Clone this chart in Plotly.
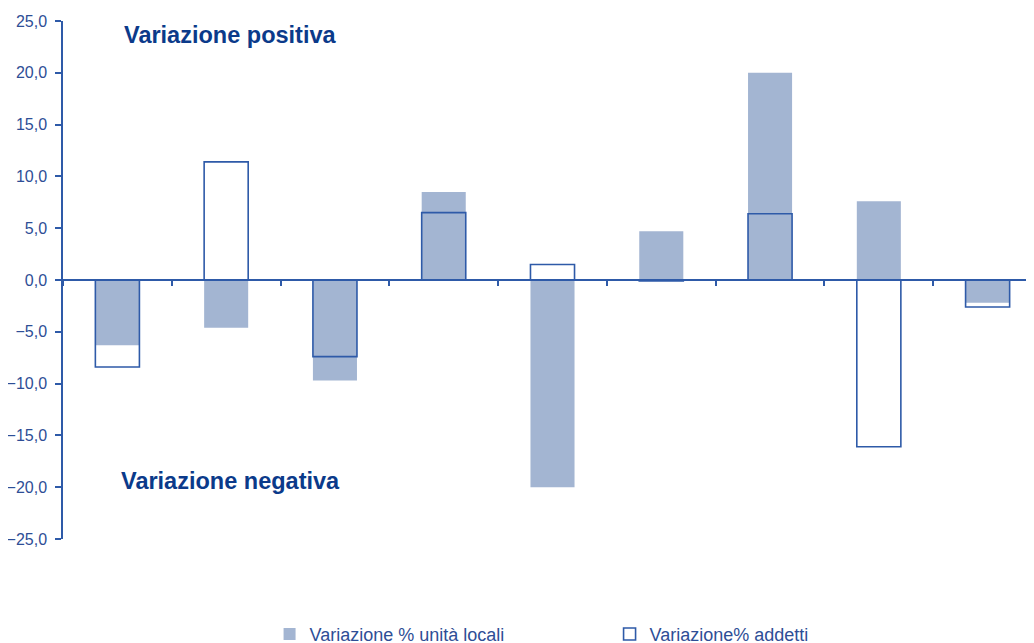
import plotly.graph_objects as go

categories = ["A", "B", "C", "D", "E", "F", "G", "H", "I"]
unita_locali = [-6.3, -4.6, -9.7, 8.5, -20.0, 4.7, 20.0, 7.6, -2.2]
addetti = [-8.4, 11.4, -7.4, 6.5, 1.5, -0.1, 6.4, -16.1, -2.6]
y_ticks = [-25, -20, -15, -10, -5, 0, 5, 10, 15, 20, 25]

FILL = "#A3B5D2"
LINE = "#2E5AA8"
TEXT = "#2E4E96"
TITLE = "#0B3A8A"

fig = go.Figure()
fig.add_trace(go.Bar(
    x=categories, y=unita_locali, name="Variazione % unità locali",
    marker=dict(color=FILL, line=dict(width=0)), width=0.405,
))
fig.add_trace(go.Bar(
    x=categories, y=addetti, name="Variazione% addetti",
    marker=dict(color="rgba(255,255,255,0)", line=dict(color=LINE, width=1.6)), width=0.405,
))

fig.update_layout(
    width=1034, height=643,
    margin=dict(l=55, r=0, t=13, b=112, autoexpand=False),
    paper_bgcolor="white", plot_bgcolor="white",
    barmode="overlay",
    separators=",.",
    font=dict(family="Liberation Sans, Arial, sans-serif", color=TEXT),
    xaxis=dict(
        type="category", anchor="free", position=0.5, automargin=False,
        showline=True, linecolor=LINE, linewidth=1.5,
        ticks="outside", tickson="boundaries", ticklen=5, tickcolor=LINE, tickwidth=1.5,
        showticklabels=False, showgrid=False, zeroline=False,
    ),
    yaxis=dict(
        range=[-25, 25], tickvals=y_ticks, tickformat=".1f", automargin=False,
        showline=True, linecolor=LINE, linewidth=1.5,
        ticks="outside", ticklen=6, tickcolor=LINE, tickwidth=1.5,
        ticklabelstandoff=5,
        tickfont=dict(size=16, color=TEXT),
        showgrid=False, zeroline=False,
    ),
    legend=dict(
        orientation="h", x=0.211, xanchor="left", y=-0.184, yanchor="middle",
        entrywidth=295, entrywidthmode="pixels",
        font=dict(size=18, color=TEXT), traceorder="normal",
    ),
    annotations=[
        dict(text="<b>Variazione positiva</b>", xref="paper", yref="paper",
             x=(122 - 63) / 979, y=(539 - 35) / 518, xanchor="left", yanchor="middle",
             showarrow=False, font=dict(size=23.5, color=TITLE)),
        dict(text="<b>Variazione negativa</b>", xref="paper", yref="paper",
             x=(119 - 63) / 979, y=(539 - 481) / 518, xanchor="left", yanchor="middle",
             showarrow=False, font=dict(size=23.5, color=TITLE)),
    ],
)

fig.write_html("out.html", config={"displayModeBar": False})
